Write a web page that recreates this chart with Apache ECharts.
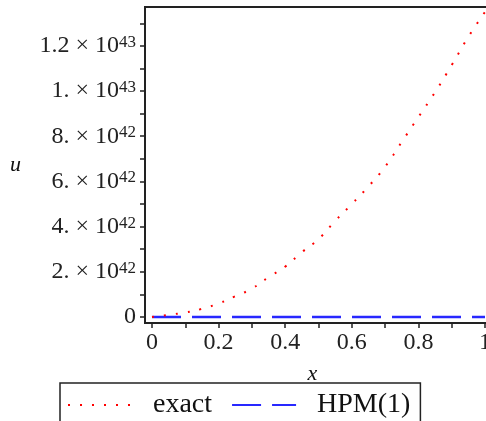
<!DOCTYPE html>
<html>
<head>
<meta charset="utf-8">
<script src="https://cdn.jsdelivr.net/npm/echarts@6/dist/echarts.min.js"></script>
<style>
  html, body { margin: 0; padding: 0; background: #fff; }
  #chart { width: 486px; height: 421px; }
</style>
</head>
<body>
<div id="chart"></div>
<script>
// x positions and u values (u in units of 1e42)
var xs = [0, 0.05, 0.1, 0.15, 0.2, 0.25, 0.3, 0.35, 0.4, 0.45, 0.5,
          0.55, 0.6, 0.65, 0.7, 0.75, 0.8, 0.85, 0.9, 0.95, 1];
var exactU = [0, 0.1, 0.2, 0.36, 0.6, 0.92, 1.26, 1.76, 2.23, 2.87, 3.45,
              4.25, 5.0, 5.78, 6.65, 7.75, 8.85, 9.95, 11.15, 12.4, 13.5];
var hpmX = [0, 1];
var hpmU = [0, 0];
var xTickLabels = [0, 0.2, 0.4, 0.6, 0.8, 1];
var xMinorTicks = [0, 0.1, 0.2, 0.3, 0.4, 0.5, 0.6, 0.7, 0.8, 0.9, 1];
var yTickLabels = [0, 2, 4, 6, 8, 10, 12];
var yMinorTicks = [0, 1, 2, 3, 4, 5, 6, 7, 8, 9, 10, 11, 12, 13];

function pairs(a, b) {
    var out = [];
    for (var i = 0; i < a.length; i++) out.push([a[i], b[i]]);
    return out;
}

// Maple style: "2. x 10^42", "1.2 x 10^43"
function sciLabel(v) {
    if (v === 0) return '{b|0}';
    var e = 42 + Math.floor(Math.log10(v) + 1e-9);
    var m = Math.round(v / Math.pow(10, e - 42) * 10) / 10;
    var ms = (m % 1 === 0) ? (m + '.') : String(m);
    return '{b|' + ms + ' \u00d7 10}{s|' + e + '}';
}

var myChart = echarts.init(document.getElementById('chart'));
var serif = '"Liberation Serif", "Times New Roman", serif';

var option = {
    animation: false,
    grid: {
        left: 145, right: -4, top: 7, bottom: 98,
        containLabel: false, outerBoundsMode: 'none',
        show: true, borderColor: '#222', borderWidth: 2
    },
    legend: {
        left: 60, top: 383,
        padding: [8, 10, 30, 7],
        borderColor: '#222', borderWidth: 1.5,
        itemWidth: 64, itemHeight: 12, itemGap: 19,
        itemStyle: { opacity: 0 },
        textStyle: { fontFamily: serif, fontSize: 28, color: '#111', padding: [0, 0, 0, 16] },
        data: ['exact', 'HPM(1)']
    },
    xAxis: {
        type: 'value', min: -0.021, max: 1.015,
        name: 'x', nameLocation: 'middle', nameGap: 40,
        nameTextStyle: { fontFamily: serif, fontStyle: 'italic', fontSize: 22, color: '#111', padding: [0, 10, 0, 0] },
        axisLine: { onZero: false, lineStyle: { color: '#222', width: 2 } },
        axisTick: { show: true, length: 5, lineStyle: { color: '#222', width: 1.5 }, customValues: xMinorTicks },
        axisLabel: { customValues: xTickLabels, margin: 8, fontFamily: serif, fontSize: 24, color: '#222',
            formatter: function (v) { return String(v); } },
        splitLine: { show: false }
    },
    yAxis: {
        type: 'value', min: -0.265, max: 13.72,
        name: 'u', nameLocation: 'middle', nameGap: 124, nameRotate: 0,
        nameTextStyle: { fontFamily: serif, fontStyle: 'italic', fontSize: 22, color: '#111', padding: [8, 0, 0, 0] },
        axisLine: { show: true, onZero: false, lineStyle: { color: '#222', width: 2 } },
        axisTick: { show: true, length: 5, lineStyle: { color: '#222', width: 1.5 }, customValues: yMinorTicks },
        axisLabel: {
            customValues: yTickLabels, margin: 9, color: '#222',
            formatter: sciLabel,
            rich: {
                b: { fontFamily: serif, fontSize: 24, lineHeight: 24, color: '#222', verticalAlign: 'bottom' },
                s: { fontFamily: serif, fontSize: 17, lineHeight: 17, color: '#222', verticalAlign: 'top', padding: [0, 0, 12, 0] }
            }
        },
        splitLine: { show: false }
    },
    series: [
        {
            name: 'exact', type: 'line', data: pairs(xs, exactU),
            showSymbol: false, symbol: 'none', smooth: true, z: 4,
            itemStyle: { color: '#ff0000' },
            lineStyle: { color: '#ff0000', width: 2, type: [2, 10] }
        },
        {
            name: 'HPM(1)', type: 'line', data: pairs(hpmX, hpmU),
            showSymbol: false, symbol: 'none', z: 3,
            itemStyle: { color: '#2828ff' },
            lineStyle: { color: '#2828ff', width: 2.5, type: [29, 11] }
        }
    ]
};

myChart.setOption(option);
</script>
</body>
</html>
